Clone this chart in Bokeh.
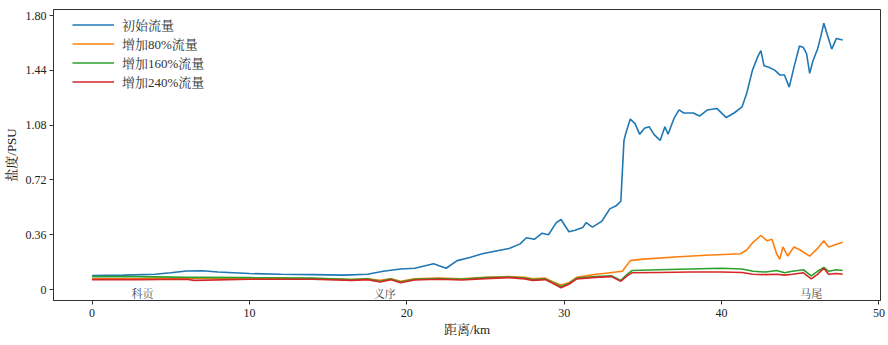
from bokeh.plotting import figure
from bokeh.models import Range1d, FixedTicker, CustomJSTickFormatter, Legend, LegendItem
from bokeh.core.properties import value
from bokeh.embed import file_html
from bokeh.resources import INLINE

# Salinity along the river channel (distance in km, salinity in PSU)
dist_base = [0, 2, 4, 5, 6, 7, 8, 10, 12, 14, 16, 17.5, 18.5, 19.6, 20.5, 21.7, 22.5, 23.2, 24,
             24.8, 25.5, 26.5, 27.2, 27.6, 28.1, 28.6, 29, 29.5, 29.8, 30.3, 30.7, 31.2, 31.4,
             31.8, 32.4, 32.9, 33.3, 33.6, 33.8, 33.9, 34.2, 34.5, 34.8, 35.1, 35.4, 35.7, 36.1,
             36.4, 36.6, 37.0, 37.3, 37.6, 38.2, 38.6, 39.1, 39.7, 40.3, 40.8, 41.3, 41.6, 41.96,
             42.3, 42.5, 42.7, 43.0, 43.4, 43.7, 44.0, 44.3, 44.6, 44.95, 45.2, 45.4, 45.6, 45.8,
             46.1, 46.3, 46.5, 46.7, 47.0, 47.3, 47.7]
sal_base = [0.092, 0.095, 0.10, 0.11, 0.122, 0.123, 0.115, 0.105, 0.10, 0.098, 0.095, 0.10, 0.12,
            0.135, 0.14, 0.17, 0.14, 0.19, 0.21, 0.235, 0.25, 0.27, 0.30, 0.34, 0.33, 0.37, 0.36,
            0.44, 0.46, 0.38, 0.39, 0.41, 0.44, 0.41, 0.45, 0.53, 0.55, 0.58, 0.98, 1.02, 1.12,
            1.09, 1.02, 1.06, 1.07, 1.02, 0.98, 1.07, 1.02, 1.13, 1.18, 1.16, 1.16, 1.14, 1.18,
            1.19, 1.13, 1.16, 1.20, 1.29, 1.44, 1.53, 1.57, 1.47, 1.46, 1.44, 1.41, 1.41, 1.33,
            1.46, 1.60, 1.59, 1.55, 1.42, 1.50, 1.58, 1.66, 1.75, 1.68, 1.58, 1.65, 1.64]

dist_80 = [0, 3, 6, 10, 13, 15, 16.5, 17.5, 18.3, 19, 19.6, 20.5, 22, 23.5, 25, 26.5, 27.5, 28,
           28.8, 29.3, 29.8, 30.3, 30.8, 31.4, 32, 32.5, 33.3, 33.7, 34.2, 35, 37.3, 39, 41.2,
           41.6, 42.0, 42.5, 42.9, 43.2, 43.5, 43.7, 43.9, 44.2, 44.6, 45.0, 45.6, 46.1, 46.5,
           46.8, 47.7]
sal_80 = [0.07, 0.072, 0.075, 0.075, 0.073, 0.07, 0.065, 0.07, 0.06, 0.07, 0.055, 0.07, 0.075,
          0.07, 0.08, 0.085, 0.08, 0.07, 0.075, 0.05, 0.03, 0.045, 0.08, 0.09, 0.10, 0.105, 0.115,
          0.12, 0.19, 0.20, 0.215, 0.225, 0.235, 0.26, 0.31, 0.355, 0.32, 0.33, 0.235, 0.20, 0.28,
          0.22, 0.28, 0.26, 0.22, 0.27, 0.32, 0.28, 0.31]

dist_low = [0, 3, 6, 6.5, 10, 14, 16.5, 17.5, 18.3, 19, 19.6, 20.5, 22, 23.5, 25, 26.5, 27.5, 28,
            28.8, 29.3, 29.8, 30.3, 30.8, 31.4, 32, 33, 33.6, 34.0, 34.3, 36, 38, 40, 41.3, 42,
            42.8, 43.5, 44, 44.5, 45.2, 45.7, 46.1, 46.5, 46.8, 47.3, 47.7]
sal_160 = [0.085, 0.085, 0.08, 0.08, 0.078, 0.075, 0.065, 0.07, 0.055, 0.07, 0.05, 0.068, 0.072,
           0.068, 0.078, 0.082, 0.075, 0.065, 0.07, 0.045, 0.02, 0.04, 0.075, 0.08, 0.085, 0.09,
           0.06, 0.10, 0.125, 0.13, 0.135, 0.14, 0.135, 0.12, 0.115, 0.125, 0.11, 0.12, 0.13,
           0.09, 0.12, 0.145, 0.12, 0.13, 0.125]
sal_240 = [0.065, 0.065, 0.068, 0.06, 0.068, 0.068, 0.06, 0.065, 0.05, 0.065, 0.045, 0.063, 0.068,
           0.063, 0.072, 0.078, 0.07, 0.06, 0.065, 0.04, 0.012, 0.035, 0.07, 0.075, 0.08, 0.085,
           0.055, 0.09, 0.11, 0.112, 0.115, 0.115, 0.112, 0.10, 0.098, 0.10, 0.095, 0.10, 0.11,
           0.07, 0.10, 0.14, 0.10, 0.105, 0.10]

series_names = ["初始流量", "增加80%流量", "增加160%流量", "增加240%流量"]
series_colors = ["#1f77b4", "#ff7f0e", "#2ca02c", "#d62728"]

site_names = ["科贡", "义序", "马尾"]
site_dist = [3.2, 18.6, 45.7]

y_ticks = [0, 0.36, 0.72, 1.08, 1.44, 1.80]
x_ticks = [0, 10, 20, 30, 40, 50]

SERIF = "'Liberation Serif', 'Noto Serif CJK SC', 'Noto Sans CJK SC', serif"
AXIS_COLOR = "#333333"

p = figure(width=888, height=345, output_backend="svg", toolbar_location=None,
           x_range=Range1d(-2.45, 50.1), y_range=Range1d(-0.072, 1.84),
           min_border_left=53, min_border_right=8, min_border_top=9, min_border_bottom=45)
p.grid.visible = False
p.outline_line_color = AXIS_COLOR
p.outline_line_width = 1
p.background_fill_color = "white"
p.border_fill_color = "white"

for ax in (p.xaxis[0], p.yaxis[0]):
    ax.axis_line_color = AXIS_COLOR
    ax.major_tick_line_color = AXIS_COLOR
    ax.minor_tick_line_color = None
    ax.major_tick_out = 4
    ax.major_tick_in = 0
    ax.major_label_text_font = SERIF
    ax.major_label_text_font_size = "12px"
    ax.major_label_text_color = "#222222"
    ax.axis_label_text_font = SERIF
    ax.axis_label_text_font_size = "13px"
    ax.axis_label_text_font_style = "normal"
    ax.axis_label_text_color = "#222222"

p.xaxis.ticker = FixedTicker(ticks=x_ticks)
p.yaxis.ticker = FixedTicker(ticks=y_ticks)
p.yaxis.formatter = CustomJSTickFormatter(code="return tick == 0 ? '0' : tick.toFixed(2);")
p.xaxis.major_label_standoff = 4
p.yaxis.major_label_standoff = 3
p.xaxis.axis_label = "距离/km"
p.yaxis.axis_label = "盐度/PSU"
p.xaxis.axis_label_standoff = 2
p.yaxis.axis_label_standoff = 4

series = [(dist_base, sal_base), (dist_80, sal_80), (dist_low, sal_160), (dist_low, sal_240)]
items = []
for (xs, ys), name, color in zip(series, series_names, series_colors):
    r = p.line(xs, ys, line_color=color, line_width=1.6)
    items.append(LegendItem(label=name, renderers=[r]))

p.text(x=site_dist, y=[-0.03] * len(site_dist), text=site_names,
       text_font=value(SERIF), text_font_size="11px", text_color="#444444",
       text_align="center", text_baseline="middle")

# legend box placed by screen offset from the frame's lower-left corner
legend = Legend(items=items, location=(13, 203))
legend.label_text_font = SERIF
legend.label_text_font_size = "13px"
legend.label_text_color = "#333333"
legend.glyph_width = 42
legend.glyph_height = 19
legend.label_height = 19
legend.spacing = 0
legend.padding = 6
legend.margin = 0
legend.label_standoff = 8
legend.background_fill_alpha = 0
legend.border_line_alpha = 0
p.add_layout(legend)

open("out.html", "w").write(file_html(p, INLINE))
